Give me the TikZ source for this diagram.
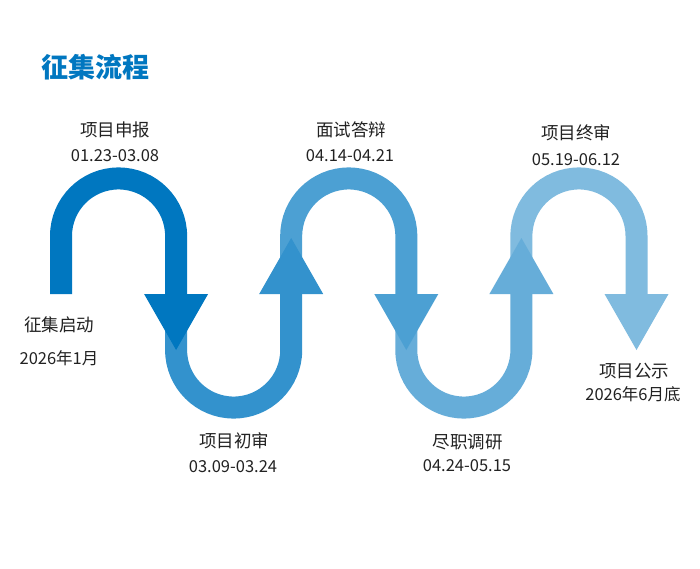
\documentclass[tikz,border=0pt]{standalone}
\usepackage{fontspec}
\setmainfont{Noto Sans CJK SC}
\usetikzlibrary{positioning}
\definecolor{flowBlue}{RGB}{0,119,192}
\definecolor{textDark}{RGB}{34,34,34}
\colorlet{stepA}{flowBlue}
\colorlet{stepB}{flowBlue!80}
\colorlet{stepC}{flowBlue!70}
\colorlet{stepD}{flowBlue!60}
\colorlet{stepE}{flowBlue!50}
\tikzset{
  band/.style={line width=22pt, draw=#1},
  head/.style={fill=#1, draw=none},
  stagename/.style={font=\fontsize{17.5}{20}\selectfont, text=textDark, inner sep=0pt},
  stagedate/.style={font=\fontsize{16.5}{20}\selectfont, text=textDark, inner sep=0pt}
}

\begin{document}
\begin{tikzpicture}[x=1pt, y=-1pt]
\fill[white] (0,0) rectangle (700,569);
\useasboundingbox (0,0) rectangle (700,569);
\node[font=\fontsize{27}{30}\selectfont\bfseries, text=flowBlue, inner sep=0pt] (title) at (95.5,67) {征集流程};
% legs of the wave
\foreach \i in {0,...,5}
  \coordinate (leg\i) at (61+115.1*\i, 294);
% bands, last one first so every head lies on top
\draw[band=stepE] (leg4) -- ++(0,-58) arc[start angle=180, end angle=360, radius=57.55] -- (leg5);
\fill[head=stepE] ([xshift=-32pt]leg5) -- ([xshift=32pt]leg5) -- ([yshift=-56pt]leg5) -- cycle;
\draw[band=stepD] (leg3) -- ++(0,56) arc[start angle=180, end angle=0, radius=57.55] -- (leg4);
\fill[head=stepD] ([xshift=-32pt]leg4) -- ([xshift=32pt]leg4) -- ([yshift=56pt]leg4) -- cycle;
\draw[band=stepC] (leg2) -- ++(0,-58) arc[start angle=180, end angle=360, radius=57.55] -- (leg3);
\fill[head=stepC] ([xshift=-32pt]leg3) -- ([xshift=32pt]leg3) -- ([yshift=-56pt]leg3) -- cycle;
\draw[band=stepB] (leg1) -- ++(0,56) arc[start angle=180, end angle=0, radius=57.55] -- (leg2);
\fill[head=stepB] ([xshift=-32pt]leg2) -- ([xshift=32pt]leg2) -- ([yshift=56pt]leg2) -- cycle;
\draw[band=stepA] (leg0) -- ++(0,-58) arc[start angle=180, end angle=360, radius=57.55] -- (leg1);
\fill[head=stepA] ([xshift=-32pt]leg1) -- ([xshift=32pt]leg1) -- ([yshift=-56pt]leg1) -- cycle;
% labels
\node[stagename] (start) at (59,325) {征集启动};
\node[stagedate] (startdate) at (59,358) {2026年1月};
\node[stagename] (apply) at (115,130) {项目申报};
\node[stagedate] (applydate) at (115,156) {01.23-03.08};
\node[stagename] (screen) at (234,441) {项目初审};
\node[stagedate] (screendate) at (233,467) {03.09-03.24};
\node[stagename] (defense) at (351,130) {面试答辩};
\node[stagedate] (defensedate) at (350,156) {04.14-04.21};
\node[stagename] (survey) at (467.5,442) {尽职调研};
\node[stagedate] (surveydate) at (467,466) {04.24-05.15};
\node[stagename] (final) at (576,133) {项目终审};
\node[stagedate] (finaldate) at (576,160) {05.19-06.12};
\node[stagename] (publish) at (634,371) {项目公示};
\node[stagedate] (publishdate) at (633,394) {2026年6月底};
\end{tikzpicture}
\end{document}
